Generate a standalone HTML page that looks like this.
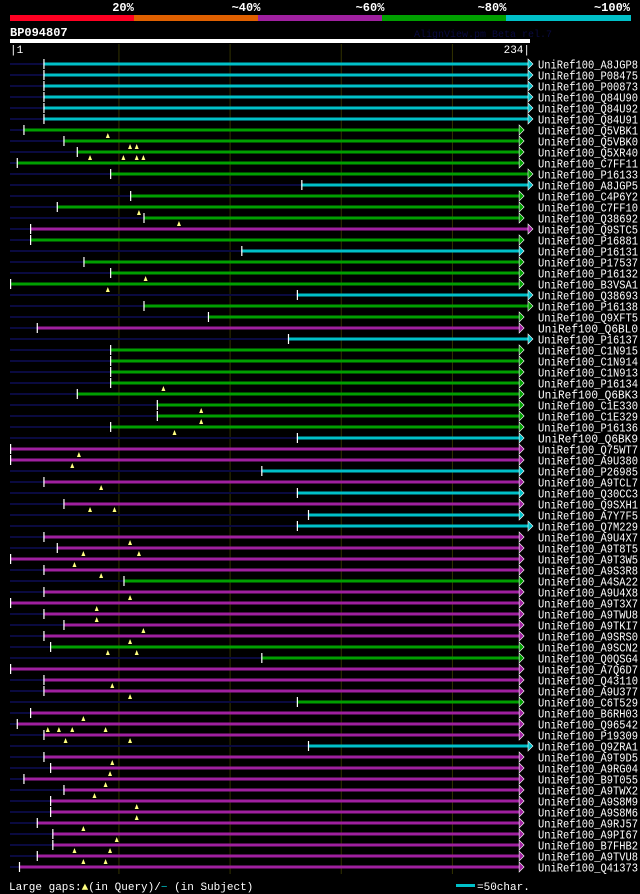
<!DOCTYPE html>
<html><head><meta charset="utf-8"><style>
html,body{margin:0;padding:0;background:#000;}
svg{display:block;font-family:"Liberation Mono",monospace;}
</style></head><body>
<svg id="chart" width="640" height="894" viewBox="0 0 640 894" xmlns="http://www.w3.org/2000/svg">
<rect x="0" y="0" width="640" height="894" fill="#000"/>
<g>
<rect x="10" y="15" width="124" height="6" fill="#ff0022"/>
<rect x="134" y="15" width="124" height="6" fill="#e06000"/>
<rect x="258" y="15" width="124" height="6" fill="#a020a0"/>
<rect x="382" y="15" width="124" height="6" fill="#00a000"/>
<rect x="506" y="15" width="125" height="6" fill="#00c0c8"/>
<g fill="#fff" font-size="12" font-weight="bold" text-anchor="middle">
<text x="123" y="11">20%</text><text x="246" y="11">~40%</text><text x="370" y="11">~60%</text><text x="492" y="11">~80%</text><text x="612" y="11">~100%</text>
</g></g>
<text x="10" y="36" fill="#fff" font-size="12" font-weight="bold">BP094807</text>
<text x="414" y="37" fill="#0a0a40" font-size="10">AlignView.pm Beta rel.7</text>
<rect x="10" y="39" width="520" height="4" fill="#fff"/>
<text x="10" y="53" fill="#fff" font-size="11">|1</text>
<text x="530" y="53" fill="#fff" font-size="11" text-anchor="end">234|</text>
<g id="grid"></g>
<g id="rows"></g>
<g>
<text x="9" y="890" fill="#fff" font-size="11">Large gaps:<tspan fill="#ffff80">▲</tspan>(in Query)/<tspan fill="#00c0c8">−</tspan> (in Subject)</text>
<rect x="456" y="884" width="19" height="3" fill="#00c0c8"/>
<text x="477" y="890" fill="#fff" font-size="11">=50char.</text>
</g>
</svg>
<script>
const names=["A8JGP8","P08475","P00873","Q84U90","Q84U92","Q84U91","Q5VBK1","Q5VBK0","Q5XR40","C7FF11","P16133","A8JGP5","C4P6Y2","C7FF10","Q38692","Q9STC5","P16881","P16131","P17537","P16132","B3VSA1","Q38693","P16138","Q9XFT5","Q6BL0","P16137","C1N915","C1N914","C1N913","P16134","Q6BK3","C1E330","C1E329","P16136","Q6BK9","Q75WT7","A9U380","P26985","A9TCL7","Q30CC3","Q9SXH1","A7Y7F5","Q7M229","A9U4X7","A9T8T5","A9T3W5","A9S3R8","A4SA22","A9U4X8","A9T3X7","A9TWU8","A9TKI7","A9SRS0","A9SCN2","Q0QSG4","A7Q6D7","Q43110","A9U377","C6T529","B6RH03","Q96542","P19309","Q9ZRA1","A9T9D5","A9RG04","B9T055","A9TWX2","A9S8M9","A9S8M6","A9RJ57","A9PI67","B7FHB2","A9TVU8","Q41373"];
const colorClass=["c","c","c","c","c","c","g","g","g","g","g","c","g","g","g","m","g","c","g","g","g","c","g","g","m","c","g","g","g","g","g","g","g","g","c","m","m","c","m","c","m","c","c","m","m","m","m","g","m","m","m","m","m","g","g","m","m","m","g","m","m","m","c","m","m","m","m","m","m","m","m","m","m","m"];
const starts=[16,16,16,16,16,16,7,25,31,4,46,132,55,22,61,10,10,105,34,46,1,130,61,90,13,126,46,46,46,46,31,67,67,46,130,1,1,114,16,130,25,135,130,16,22,1,16,52,16,1,16,25,16,19,114,1,16,16,130,10,4,16,135,16,19,7,25,19,19,13,20,20,13,5];
const ends=[234,234,234,234,234,234,230,230,230,230,234,234,230,230,230,234,230,230,230,230,230,234,234,230,230,234,230,230,230,230,230,230,230,230,230,230,230,230,230,230,230,230,234,230,230,230,230,230,230,230,230,230,230,230,230,230,230,230,230,230,230,230,234,230,230,230,230,230,230,230,230,230,230,230];
const gaps=[[],[],[],[],[],[],[45],[55,58],[37,52,58,61],[],[],[],[],[59],[77],[],[],[],[],[62],[45],[],[],[],[],[],[],[],[],[70],[],[87],[87],[75],[],[32],[29],[],[42],[],[37,48],[],[],[55],[34,59],[30],[42],[],[55],[40],[40],[61],[55],[45,58],[],[],[47],[55],[],[34],[18,23,29,44],[26,55],[],[47],[46],[44],[39],[58],[58],[34],[49],[30,46],[34,44],[]];
const ticks=[50,100,150,200];
const COLORS={c:"#00c0c8",g:"#00a000",m:"#a020a0"};
const NS="http://www.w3.org/2000/svg";
const xs=p=>10+(p-1)*518/233;
const ys=i=>64+i*11;
function mk(t,a,parent){const e=document.createElementNS(NS,t);for(const k in a)e.setAttribute(k,a[k]);parent.appendChild(e);return e;}
const grid=document.getElementById('grid');
ticks.forEach(t=>{
 const l=mk('line',{x1:xs(t),x2:xs(t),y1:44,y2:874,stroke:'#333300','stroke-width':1},grid);
 
 
});
const rows=document.getElementById('rows');
names.forEach((n,i)=>{
 const g=mk('g',{},rows);
 
 
 const y=ys(i),x0=xs(starts[i]),x1=xs(ends[i]),col=COLORS[colorClass[i]];
 if(starts[i]>1) mk('rect',{x:10,y:y-1,width:x0-10,height:2,fill:'#0a0a40'},g);
 mk('rect',{x:x0,y:y-1.5,width:x1-x0,height:3,fill:col},g);
 mk('rect',{x:x0,y:y-5,width:1.2,height:10,fill:'#fff'},g);
 mk('polygon',{points:`${x1},${y-5} ${x1+5},${y} ${x1},${y+5}`,fill:col,stroke:'#fff','stroke-width':0.6},g);
 gaps[i].forEach(p=>{
  const m=mk('polygon',{points:`${xs(p)-2},${y+8} ${xs(p)+2},${y+8} ${xs(p)},${y+3}`,fill:'#ffff80'},g);
  
  
 });
 const t=mk('text',{x:538,y:y+4.5,fill:'#fff','font-size':12,textLength:100,lengthAdjust:'spacingAndGlyphs'},g);
 t.textContent='UniRef100_'+n;
});
</script>
</body></html>
